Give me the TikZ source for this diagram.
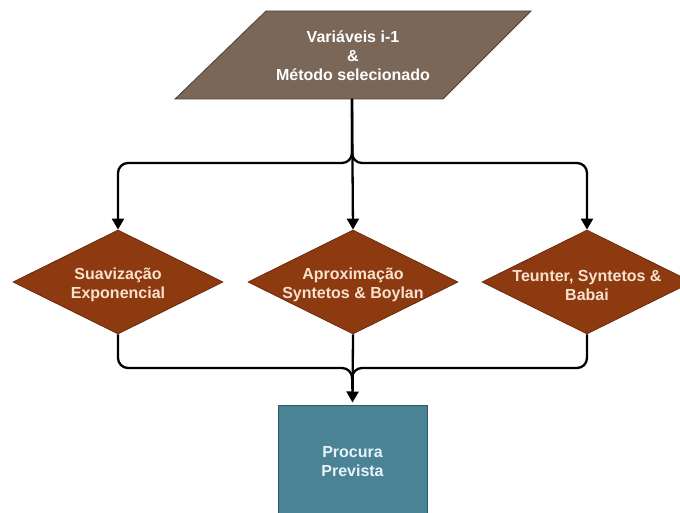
\documentclass[tikz,border=0pt]{standalone}
\usepackage{fontspec}
\setmainfont{Liberation Sans}
\usetikzlibrary{shapes.geometric,arrows.meta}

\definecolor{inputfill}{HTML}{7A6758}
\definecolor{inputline}{HTML}{4E4035}
\definecolor{methodfill}{HTML}{8E3A10}
\definecolor{methodline}{HTML}{6A2A0A}
\definecolor{methodtext}{HTML}{F8E2CE}
\definecolor{outfill}{HTML}{4A8296}
\definecolor{outline}{HTML}{2F5868}
\definecolor{outtext}{HTML}{E6F4F8}

\tikzset{
  lbl/.style={font=\bfseries\fontsize{16}{19}\selectfont, align=center, inner sep=0pt},
  method/.style={diamond, draw=methodline, line width=0.8pt, fill=methodfill,
    minimum width=210pt, minimum height=104pt, inner sep=0pt},
  methodlbl/.style={lbl, text=methodtext},
  result/.style={rectangle, draw=outline, line width=1pt, fill=outfill,
    minimum width=149pt, minimum height=114pt, lbl, text=outtext},
  conn/.style={draw=black, line width=2.3pt, rounded corners=10pt,
    -{Triangle[length=11pt,width=12pt]}},
  link/.style={draw=black, line width=2.3pt, rounded corners=10pt},
}

\begin{document}
\begin{tikzpicture}[x=1pt, y=-1pt]
  \useasboundingbox[fill=white] (0,0) rectangle (680,513);

  % input parallelogram
  \fill[inputfill, draw=inputline, line width=0.8pt]
    (266,11) -- (531,11) -- (443,99) -- (175,99) -- cycle;
  \node[lbl, text=white] (vars) at (353,56)
    {Variáveis i-1\\\&\\Método selecionado};
  \coordinate (varsout) at (352,99);

  % forecasting methods (shape first, then its label on top)
  \node[method] (ses) at (118,282) {};
  \node[methodlbl] (ses-t) at (118,285) {Suavização\\Exponencial};
  \node[method] (sba) at (353,282) {};
  \node[methodlbl] (sba-t) at (353,285) {Aproximação\\Syntetos \& Boylan};
  \node[method] (tsb) at (587,282) {};
  \node[methodlbl] (tsb-t) at (587,285) {Teunter, Syntetos \&\\Babai};

  % result
  \node[result] (out) at (352.5,462) {Procura\\Prevista};

  % branch points
  \coordinate (split) at (352,163);
  \coordinate (join) at (352,368);

  % from input to each method
  \draw[conn] (varsout) -- (split) -| (ses.north);
  \draw[conn] (varsout) -- (split) -| (tsb.north);
  \draw[conn] (varsout) -- (sba.north);

  % from each method to the result
  \draw[link, shorten >=16pt] (ses.south) |- (join) -- (out.north);
  \draw[link, shorten >=16pt] (tsb.south) |- (join) -- (out.north);
  \draw[conn, shorten >=2pt] (sba.south) -- (out.north);
\end{tikzpicture}
\end{document}
